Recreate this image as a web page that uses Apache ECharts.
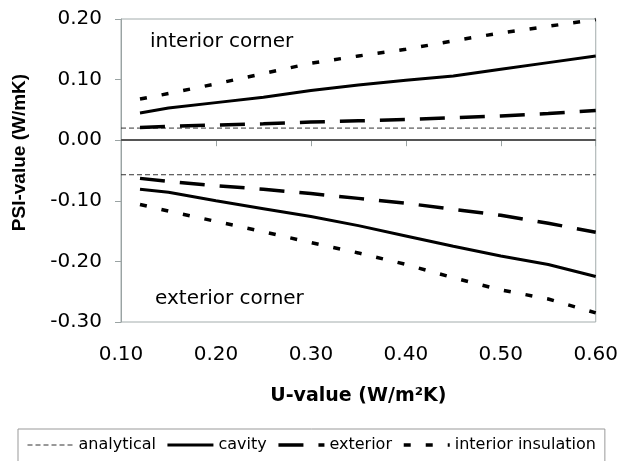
<!DOCTYPE html>
<html>
<head>
<meta charset="utf-8">
<script src="https://cdn.jsdelivr.net/npm/echarts@6/dist/echarts.min.js"></script>
<style>
html,body{margin:0;padding:0;background:#fff;}
#chart{width:621px;height:461px;}
</style>
</head>
<body>
<div id="chart"></div>
<script>
// U-values (W/m2K)
const uValues = [0.12, 0.15, 0.20, 0.25, 0.30, 0.35, 0.40, 0.45, 0.50, 0.55, 0.60];
// interior corner
const cavityInt = [0.045, 0.053, 0.062, 0.071, 0.082, 0.091, 0.099, 0.106, 0.117, 0.128, 0.139];
const exteriorInt = [0.021, 0.023, 0.025, 0.027, 0.030, 0.032, 0.034, 0.037, 0.040, 0.044, 0.049];
const insulationInt = [0.068, 0.077, 0.093, 0.110, 0.127, 0.139, 0.150, 0.164, 0.177, 0.188, 0.199];
// exterior corner
const cavityExt = [-0.081, -0.086, -0.100, -0.113, -0.126, -0.141, -0.158, -0.175, -0.191, -0.205, -0.225];
const exteriorExt = [-0.063, -0.068, -0.075, -0.081, -0.088, -0.096, -0.104, -0.114, -0.124, -0.137, -0.152];
const insulationExt = [-0.106, -0.117, -0.134, -0.151, -0.169, -0.186, -0.205, -0.227, -0.247, -0.262, -0.285];
// analytical
const analyticalU = [0.10, 0.60];
const analyticalInt = [0.02, 0.02];
const analyticalExt = [-0.057, -0.057];

const legendNames = ['analytical', 'cavity', 'exterior', 'interior insulation'];
const cornerLabels = ['interior corner', 'exterior corner'];
const xName = 'U-value (W/m²K)';
const yName = 'PSI-value (W/mK)';

function pairs(xs, ys) { return xs.map((x, i) => [x, ys[i]]); }

const styles = {
  'analytical': { color: '#333', width: 1, type: [5, 3] },
  'cavity': { color: '#000', width: 3, type: 'solid' },
  'exterior': { color: '#000', width: 3.5, type: [25, 15] },
  'interior insulation': { color: '#000', width: 3.5, type: [7, 15] }
};

function mk(name, xs, ys, extra) {
  const s = {
    name: name, type: 'line', data: pairs(xs, ys),
    symbol: 'none', showSymbol: false, smooth: false,
    lineStyle: styles[name], itemStyle: { color: styles[name].color },
    silent: true, animation: false, z: name === 'analytical' ? 2 : 3
  };
  return Object.assign(s, extra || {});
}

const FONT = 'DejaVu Sans';
const chart = echarts.init(document.getElementById('chart'), null, { renderer: 'canvas' });
chart.setOption({
  animation: false,
  backgroundColor: '#fff',
  grid: { left: 121, right: 24, top: 19, bottom: 139, show: true, borderColor: '#a3acac', borderWidth: 1 },
  xAxis: {
    type: 'value', min: 0.1, max: 0.6, interval: 0.1,
    name: xName, nameLocation: 'middle', nameGap: 65,
    nameTextStyle: { fontFamily: FONT, fontWeight: 'bold', fontSize: 19, color: '#000' },
    axisLine: { show: true, lineStyle: { color: '#9aa3a3', width: 1 } },
    axisTick: { show: true, length: 6, inside: false, lineStyle: { color: '#9aa3a3' } },
    axisLabel: { formatter: v => v.toFixed(2), fontFamily: FONT, fontSize: 20, color: '#000', margin: 23 },
    splitLine: { show: false }
  },
  yAxis: {
    type: 'value', min: -0.3, max: 0.2, interval: 0.1,
    name: yName, nameLocation: 'middle', nameGap: 92, nameRotate: 90,
    nameTextStyle: { fontFamily: 'Liberation Sans', fontWeight: 'bold', fontSize: 19, color: '#000', padding: [0, 0, 0, 36] },
    axisLine: { show: true, lineStyle: { color: '#9aa3a3', width: 1 } },
    axisTick: { show: true, length: 6, inside: false, lineStyle: { color: '#9aa3a3' } },
    axisLabel: { formatter: v => v.toFixed(2), fontFamily: FONT, fontSize: 20, color: '#000', margin: 19 },
    splitLine: { show: false }
  },
  legend: {
    show: true,
    left: 18, top: 429,
    padding: [8, 9, 16, 9],
    itemWidth: 46, itemHeight: 14, itemGap: 10,
    borderColor: '#999', borderWidth: 1, backgroundColor: '#fff',
    textStyle: { fontFamily: FONT, fontSize: 16, color: '#000' },
    itemStyle: { opacity: 0, borderWidth: 0 },
    selectedMode: false,
    data: legendNames.map(n => ({ name: n, lineStyle: { width: styles[n].width } }))
  },
  graphic: [
    { type: 'text', left: 150, top: 32, silent: true, style: { text: cornerLabels[0], font: '20px "DejaVu Sans"', fill: '#000' } },
    { type: 'text', left: 155, top: 289, silent: true, style: { text: cornerLabels[1], font: '20px "DejaVu Sans"', fill: '#000' } }
  ],
  series: [
    mk('analytical', analyticalU, analyticalInt, {
      markLine: { silent: true, symbol: 'none', label: { show: false }, animation: false,
        lineStyle: { color: '#555', width: 2, type: 'solid' }, data: [{ yAxis: 0 }] }
    }),
    mk('analytical', analyticalU, analyticalExt),
    mk('cavity', uValues, cavityInt),
    mk('cavity', uValues, cavityExt),
    mk('exterior', uValues, exteriorInt),
    mk('exterior', uValues, exteriorExt),
    mk('interior insulation', uValues, insulationInt),
    mk('interior insulation', uValues, insulationExt)
  ]
});
</script>
</body>
</html>
